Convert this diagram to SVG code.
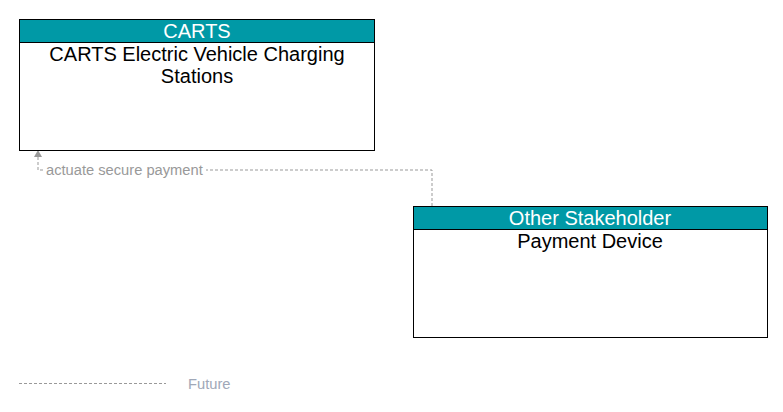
<svg xmlns="http://www.w3.org/2000/svg" width="783" height="412" viewBox="0 0 783 412">
<style>
.box{fill:#fff;stroke:#000;stroke-width:1}
.hdr{fill:#0099a6;stroke:#000;stroke-width:1}
.ht{font-family:"Liberation Sans",Arial,sans-serif;font-size:20px;fill:#fff;text-anchor:middle}
.bt{font-family:"Liberation Sans",Arial,sans-serif;font-size:20px;fill:#000;text-anchor:middle}
.flow{fill:none;stroke:#999;stroke-width:1;stroke-dasharray:3,2}
.lbl{font-family:"Liberation Sans",Arial,sans-serif;font-size:14.7px;fill:#999}
</style>
<rect width="783" height="412" fill="#fff"/>
<g id="connectors">
<path class="flow" d="M432,206 V170 H38 V154" />
<polygon points="38,150 34,157 42,157" fill="#999"/>
<rect x="44" y="161" width="162" height="17" fill="#fff"/>
<text class="lbl" x="46" y="175">actuate secure payment</text>
</g>
<g id="node-carts">
<rect class="box" x="19.5" y="19.5" width="355" height="131"/>
<rect class="hdr" x="19.5" y="19.5" width="355" height="23"/>
<text class="ht" x="197" y="38">CARTS</text>
<text class="bt" x="197" y="61">CARTS Electric Vehicle Charging</text>
<text class="bt" x="197" y="83">Stations</text>
</g>
<g id="node-payment">
<rect class="box" x="413.5" y="206.5" width="354" height="131"/>
<rect class="hdr" x="413.5" y="206.5" width="354" height="23"/>
<text class="ht" x="590" y="225">Other Stakeholder</text>
<text class="bt" x="590" y="248">Payment Device</text>
</g>
<g id="legend">
<line class="flow" x1="19" y1="383.5" x2="166" y2="383.5"/>
<text class="lbl" x="188" y="389" style="fill:#a0a8b8">Future</text>
</g>
</svg>
